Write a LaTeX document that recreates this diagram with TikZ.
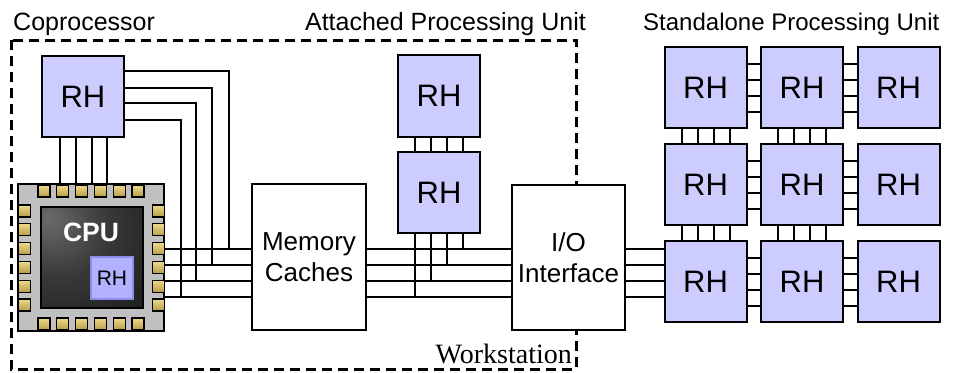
\documentclass[tikz,border=0pt]{standalone}
\usepackage{fontspec}
\setmainfont{Liberation Sans}
\newfontfamily\stationfont{Liberation Serif}
\usetikzlibrary{positioning,calc}
\definecolor{rhfill}{RGB}{204,204,255}
\definecolor{rhsmall}{RGB}{178,178,255}
\definecolor{rhedge}{RGB}{140,140,235}
\definecolor{chipgray}{RGB}{192,192,192}
\definecolor{padlight}{RGB}{236,218,140}
\definecolor{paddark}{RGB}{184,156,70}
\pgfdeclareradialshading{dieshade}{\pgfpoint{-22bp}{20bp}}{color(0bp)=(black!58); color(25bp)=(black!78); color(50bp)=(black!88); color(100bp)=(black!92)}
\tikzset{
  wire/.style = {line width=2pt},
  rh/.style = {draw=black, fill=rhfill, line width=2pt, minimum width=82pt,
    minimum height=81pt, inner sep=0pt, font=\fontsize{31}{31}\selectfont},% RH block
  unit/.style = {draw=black, fill=white, line width=2pt, minimum width=114pt,
    minimum height=146pt, align=center, inner sep=0pt,
    font=\fontsize{26}{31}\selectfont},% white box
  pad/.style = {draw=black, line width=1.2pt, top color=padlight,
    bottom color=paddark, minimum size=12pt, inner sep=0pt},% chip pin
  lbl/.style = {inner sep=0pt, font=\fontsize{25}{25}\selectfont}
}

\begin{document}
\begin{tikzpicture}[x=1pt,y=-1pt]
\useasboundingbox (0,0) rectangle (963,372);
% workstation frame
\draw[line width=3pt, dash pattern=on 10pt off 6pt] (11,40) rectangle (576,369);
\node[lbl, anchor=base west] (coplbl) at (13,30) {Coprocessor};
\node[lbl, anchor=base east] (attlbl) at (586,30) {Attached Processing Unit};
\node[lbl, anchor=base west, font=\fontsize{24}{24}\selectfont] (salbl) at (643,30)
  {Standalone Processing Unit};
\node[inner sep=0pt, anchor=base east, font=\stationfont\fontsize{28}{28}\selectfont]
  (wslbl) at (572,363) {Workstation};
% bus levels
\foreach \n/\y in {1/249,2/265,3/281,4/297}
  \coordinate (bus\n) at (0,\y);

% coprocessor
\node[rh] (cop) at (83,96.5) {RH};
\foreach \x in {60,76,92,107}
  \draw[wire] (cop.south -| \x,0) -- (\x,184);
\foreach \t/\x/\b in {71/229/1,88/212/2,103/196/3,120/181/4}
  \draw[wire] (cop.east |- 0,\t) -| (\x,0 |- bus\b);
\node[draw=black, line width=2pt, fill=chipgray, minimum width=146pt,
  minimum height=147pt, inner sep=0pt] (chip) at (91,257.5) {};
\foreach \i in {0,...,5}{
  \node[pad] (pt\i) at (44+18.8*\i,191) {};
  \node[pad] (pb\i) at (44+18.8*\i,324) {};
  \node[pad] (pl\i) at (24.5,211+18.8*\i) {};
  \node[pad] (pr\i) at (158.5,211+18.8*\i) {};
}
\node[draw=black, line width=1.5pt, shade, shading=dieshade, minimum width=102pt,
  minimum height=101pt, inner sep=0pt] (die) at (92,257.5) {};
\node[text=white, inner sep=0pt, font=\fontsize{26.5}{26.5}\selectfont\bfseries]
  (cpu) at (91,232) {CPU};
\node[draw=rhedge, fill=rhsmall, line width=1.5pt, minimum size=42pt, inner sep=0pt,
  font=\fontsize{21}{21}\selectfont] (cpurh) at (112,278) {RH};

% memory and i/o
\node[unit] (mem) at (309,257) {Memory\\Caches};
\node[unit, minimum width=113pt, minimum height=145pt] (io) at (568.5,257.5) {I/O\\Interface};

% attached unit
\node[rh, minimum height=82pt] (att1) at (439,96) {RH};
\node[rh] (att2) at (439,192.5) {RH};
\foreach \x in {415,431,447,463}
  \draw[wire] (att1.south -| \x,0) -- (att2.north -| \x,0);
\foreach \x/\b in {415/4,431/3,447/2,463/1}
  \draw[wire] (att2.south -| \x,0) -- (\x,0 |- bus\b);

% standalone unit
\foreach \c/\x in {1/705.5,2/802,3/898.5}
  \foreach \r/\y in {1/87.5,2/184.5,3/281.5}
    \node[rh] (g\r\c) at (\x,\y) {RH};
\foreach \a/\b in {11/12,12/13,21/22,22/23,31/32,32/33}
  \foreach \d in {-24,-8,8,24}
    \draw[wire] ($(g\a.east)+(0,\d)$) -- ($(g\b.west)+(0,\d)$);
\foreach \a/\b in {11/21,21/31,12/22,22/32}
  \foreach \d in {-24,-8,8,24}
    \draw[wire] ($(g\a.south)+(\d,0)$) -- ($(g\b.north)+(\d,0)$);

% buses
\foreach \b in {1,...,4}{
  \draw[wire] (chip.east |- bus\b) -- (mem.west |- bus\b);
  \draw[wire] (mem.east |- bus\b) -- (io.west |- bus\b);
  \draw[wire] (io.east |- bus\b) -- (g31.west |- bus\b);
}
\end{tikzpicture}
\end{document}
